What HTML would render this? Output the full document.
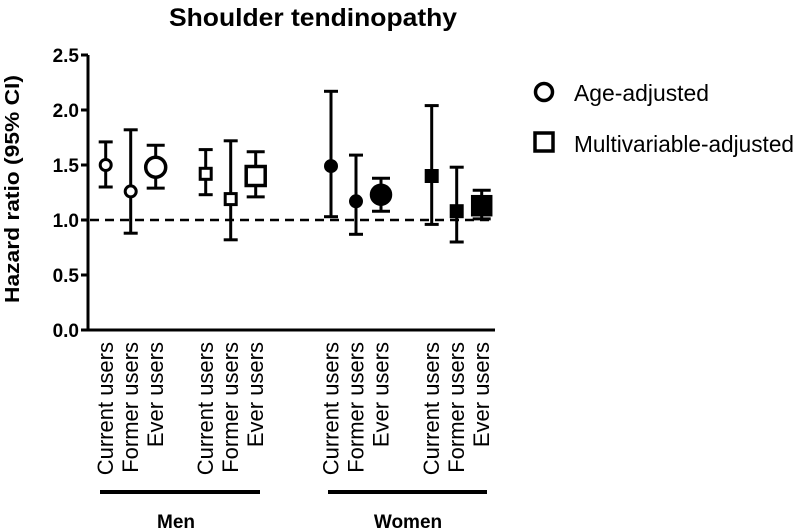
<!DOCTYPE html>
<html><head><meta charset="utf-8"><style>
html,body{margin:0;padding:0;background:#fff}
svg{display:block;font-family:"Liberation Sans",Arial,sans-serif}
</style></head><body>
<svg id="chart" width="795" height="530" viewBox="0 0 795 530">
<text x="169" y="26" font-size="25" font-weight="bold" textLength="288" lengthAdjust="spacingAndGlyphs">Shoulder tendinopathy</text>
<text transform="translate(19,189) rotate(-90)" font-size="20" font-weight="bold" text-anchor="middle" textLength="228" lengthAdjust="spacingAndGlyphs">Hazard ratio (95% CI)</text>
<g id="yaxis"></g>
<g id="marks"></g>
<g id="xlabels"></g>
<line x1="100" y1="492" x2="260" y2="492" stroke="#000" stroke-width="4"/>
<line x1="328" y1="492" x2="487" y2="492" stroke="#000" stroke-width="4"/>
<text x="176" y="528" font-size="19" font-weight="bold" text-anchor="middle">Men</text>
<text x="408" y="528" font-size="19" font-weight="bold" text-anchor="middle">Women</text>
<g>
<circle cx="544" cy="92" r="8.5" fill="#fff" stroke="#000" stroke-width="3.5"/>
<text x="574" y="101" font-size="23" textLength="135" lengthAdjust="spacingAndGlyphs">Age-adjusted</text>
<rect x="535" y="133" width="18" height="18" fill="#fff" stroke="#000" stroke-width="3.5"/>
<text x="574" y="152" font-size="23" textLength="220" lengthAdjust="spacingAndGlyphs">Multivariable-adjusted</text>
</g>
</svg>
<script>
const categories = ["Current users","Former users","Ever users","Current users","Former users","Ever users","Current users","Former users","Ever users","Current users","Former users","Ever users"];
const hr = [1.50,1.26,1.48,1.42,1.19,1.40,1.49,1.17,1.23,1.40,1.08,1.13];
const ciLow = [1.30,0.88,1.29,1.23,0.82,1.21,1.03,0.87,1.08,0.96,0.80,1.01];
const ciHigh = [1.71,1.82,1.68,1.64,1.72,1.62,2.17,1.59,1.38,2.04,1.48,1.27];
const yTicks = [0.0,0.5,1.0,1.5,2.0,2.5];
const shapes = ["circle","circle","circle","square","square","square","circle","circle","circle","square","square","square"];
const filled = [0,0,0,0,0,0,1,1,1,1,1,1];
const big = [0,0,1,0,0,1,0,0,1,0,0,1];

const NS="http://www.w3.org/2000/svg";
const y0=330, yScale=110, yMin=0;
function y(v){return y0-(v-yMin)*yScale;}
function x(i){const g=Math.floor(i/3), k=i%3; const base=[105.7,205.7,331,431.7][g]; return base+k*25;}
function mk(tag,attrs,parent){const e=document.createElementNS(NS,tag);for(const k in attrs)e.setAttribute(k,attrs[k]);parent.appendChild(e);return e;}

const ya=document.getElementById('yaxis');
const axl=mk('line',{x1:88,y1:y(2.5),x2:88,y2:y(0)+1.5,stroke:'#000','stroke-width':3},ya);


const xal=mk('line',{x1:86.5,y1:y(0),x2:495,y2:y(0),stroke:'#000','stroke-width':3},ya);


yTicks.forEach(t=>{
  const tk=mk('line',{x1:81,y1:y(t),x2:88,y2:y(t),stroke:'#000','stroke-width':3},ya);
  
  
  const tl=mk('text',{x:79,y:y(t)+7,'font-size':19,'font-weight':'bold','text-anchor':'end'},ya);
  tl.textContent=t.toFixed(1);
  
  
});

const mg=document.getElementById('marks');
const ref=mk('line',{x1:90,y1:y(1),x2:492,y2:y(1),stroke:'#000','stroke-width':2.5,'stroke-dasharray':'9,6'},mg);



hr.forEach((v,i)=>{
  const cx=x(i);
  const g=mk('g',{},mg);
  
  
  const cap=big[i]?9:7;
  mk('line',{x1:cx,y1:y(ciLow[i]),x2:cx,y2:y(ciHigh[i]),stroke:'#000','stroke-width':3},g);
  mk('line',{x1:cx-cap,y1:y(ciLow[i]),x2:cx+cap,y2:y(ciLow[i]),stroke:'#000','stroke-width':3},g);
  mk('line',{x1:cx-cap,y1:y(ciHigh[i]),x2:cx+cap,y2:y(ciHigh[i]),stroke:'#000','stroke-width':3},g);
  const fill=filled[i]?'#000':'#fff';
  const sw=big[i]?3.5:3;
  if(shapes[i]==='circle'){
    const r=big[i]?(filled[i]?9.5:10):5.5;
    mk('circle',{cx:cx,cy:y(v),r:r,fill:fill,stroke:'#000','stroke-width':sw},g);
  }else{
    const s=big[i]?(filled[i]?18:19):11;
    mk('rect',{x:cx-s/2,y:y(v)-s/2,width:s,height:s,fill:fill,stroke:'#000','stroke-width':sw},g);
  }
});

const xl=document.getElementById('xlabels');
categories.forEach((c,i)=>{
  const t=mk('text',{transform:`translate(${x(i)+7.5},342) rotate(-90)`,'font-size':22,'text-anchor':'end'},xl);
  t.textContent=c;
  
  
});
</script>
</body></html>
